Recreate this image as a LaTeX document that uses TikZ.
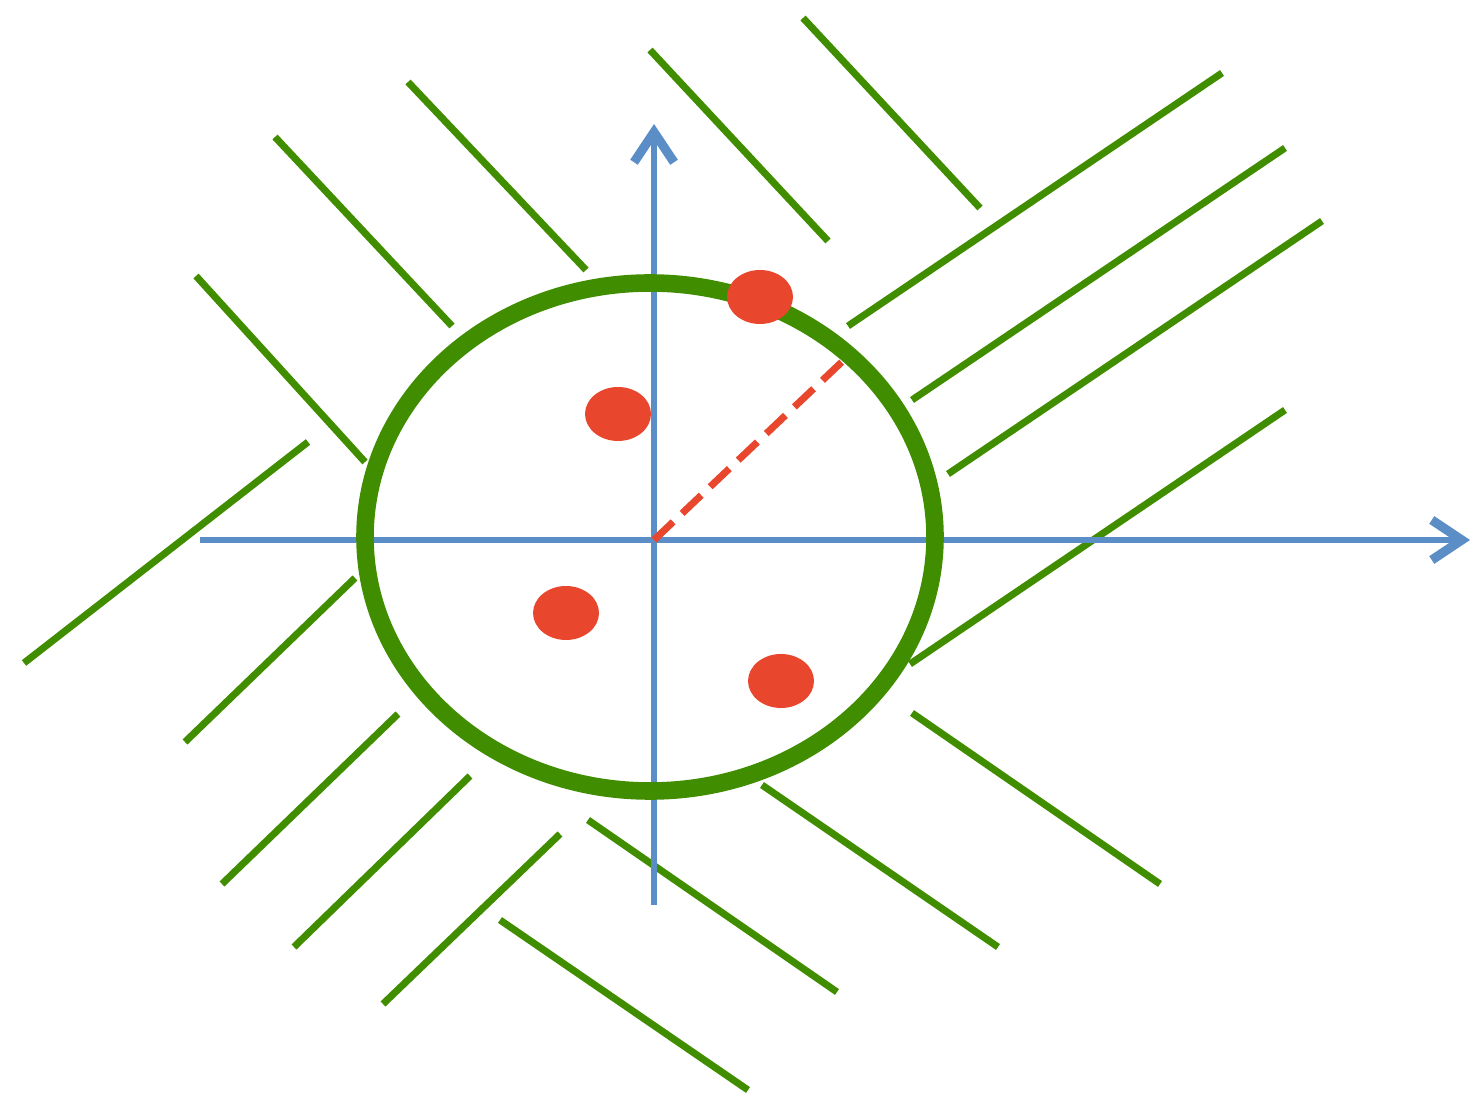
\documentclass[tikz,border=0pt]{standalone}
\usetikzlibrary{arrows.meta}
\definecolor{hgreen}{RGB}{64,141,0}
\definecolor{axblue}{RGB}{91,142,198}
\definecolor{dotred}{RGB}{232,71,46}
\tikzset{
  hatch/.style={hgreen, line width=2pt},
  axis/.style={axblue, line width=1.8pt, -{Straight Barb[length=0.3cm, width=0.4cm, line width=2.6pt]}},
  dot/.style={fill=dotred, draw=none},
}
\begin{document}
\begin{tikzpicture}[x=0.01cm, y=-0.01cm]
\useasboundingbox (0,0) rectangle (1476,1098);
% hatch lines
\draw[hatch] (275,137) -- (452,326);
\draw[hatch] (408,82) -- (586,270);
\draw[hatch] (650,50) -- (828,241);
\draw[hatch] (803,18) -- (980,208);
\draw[hatch] (196,276) -- (365,462);
\draw[hatch] (848,326) -- (1222,73);
\draw[hatch] (912,400) -- (1285,148);
\draw[hatch] (948,474) -- (1322,221);
\draw[hatch] (910,664) -- (1285,410);
\draw[hatch] (308,442) -- (24,663);
\draw[hatch] (355,578) -- (185,742);
\draw[hatch] (398,714) -- (222,884);
\draw[hatch] (470,776) -- (294,947);
\draw[hatch] (560,834) -- (383,1004);
\draw[hatch] (500,920) -- (748,1090);
\draw[hatch] (588,820) -- (837,992);
\draw[hatch] (762,785) -- (998,947);
\draw[hatch] (912,713) -- (1160,884);
% axes
\coordinate (O) at (654,540);
\coordinate (xs) at (200,540);
\coordinate (xe) at (1470,540);
\coordinate (ys) at (654,905);
\coordinate (ye) at (654,124);
\draw[axis] (xs) -- (xe);
\draw[axis] (ys) -- (ye);
% circle
\draw[hgreen, line width=5pt] (650,537) ellipse [x radius=285, y radius=254];
% radius
\coordinate (R) at (846,358);
\draw[dotred, line width=2pt, dash pattern=on 7.5pt off 3.5pt] (O) -- (R);
% points
\fill[dot] (760,297) ellipse [x radius=33, y radius=27];
\fill[dot] (618,414) ellipse [x radius=33, y radius=27];
\fill[dot] (566,613) ellipse [x radius=33, y radius=27];
\fill[dot] (781,681) ellipse [x radius=33, y radius=27];
\end{tikzpicture}
\end{document}
